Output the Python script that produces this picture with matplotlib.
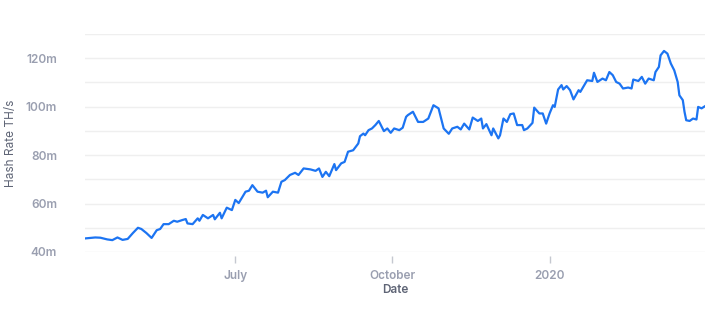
import matplotlib
matplotlib.use("Agg")
import matplotlib.pyplot as plt
import pandas as pd

dates = [
    "2019-04-04", "2019-04-10", "2019-04-13", "2019-04-17", "2019-04-20", "2019-04-23", "2019-04-26", "2019-04-29",
    "2019-05-02", "2019-05-05", "2019-05-07", "2019-05-10", "2019-05-13", "2019-05-16", "2019-05-18", "2019-05-20",
    "2019-05-23", "2019-05-26", "2019-05-28", "2019-05-31", "2019-06-02", "2019-06-03", "2019-06-06", "2019-06-09",
    "2019-06-10", "2019-06-12", "2019-06-15", "2019-06-18", "2019-06-19", "2019-06-22", "2019-06-23", "2019-06-26",
    "2019-06-29", "2019-07-01", "2019-07-03", "2019-07-07", "2019-07-09", "2019-07-11", "2019-07-14", "2019-07-17",
    "2019-07-19", "2019-07-20", "2019-07-23", "2019-07-26", "2019-07-28", "2019-07-30", "2019-08-02", "2019-08-05",
    "2019-08-07", "2019-08-10", "2019-08-14", "2019-08-17", "2019-08-19", "2019-08-21", "2019-08-23", "2019-08-25",
    "2019-08-28", "2019-08-29", "2019-09-01", "2019-09-03", "2019-09-05", "2019-09-08", "2019-09-11", "2019-09-12",
    "2019-09-14", "2019-09-15", "2019-09-17", "2019-09-19", "2019-09-21", "2019-09-23", "2019-09-26", "2019-09-28",
    "2019-09-30", "2019-10-02", "2019-10-05", "2019-10-07", "2019-10-09", "2019-10-10", "2019-10-13", "2019-10-15",
    "2019-10-16", "2019-10-19", "2019-10-22", "2019-10-25", "2019-10-28", "2019-10-29", "2019-10-31", "2019-11-03",
    "2019-11-05", "2019-11-08", "2019-11-10", "2019-11-12", "2019-11-15", "2019-11-17", "2019-11-20", "2019-11-22",
    "2019-11-23", "2019-11-25", "2019-11-28", "2019-11-29", "2019-12-02", "2019-12-03", "2019-12-05", "2019-12-07",
    "2019-12-09", "2019-12-11", "2019-12-13", "2019-12-16", "2019-12-17", "2019-12-19", "2019-12-22", "2019-12-23",
    "2019-12-26", "2019-12-28", "2019-12-30", "2020-01-01", "2020-01-03", "2020-01-04", "2020-01-06", "2020-01-08",
    "2020-01-09", "2020-01-11", "2020-01-13", "2020-01-15", "2020-01-18", "2020-01-19", "2020-01-21", "2020-01-23",
    "2020-01-26", "2020-01-27", "2020-01-29", "2020-02-01", "2020-02-03", "2020-02-05", "2020-02-07", "2020-02-09",
    "2020-02-11", "2020-02-13", "2020-02-16", "2020-02-18", "2020-02-19", "2020-02-22", "2020-02-24", "2020-02-26",
    "2020-02-28", "2020-03-02", "2020-03-03", "2020-03-05", "2020-03-06", "2020-03-08", "2020-03-10", "2020-03-12",
    "2020-03-14", "2020-03-16", "2020-03-17", "2020-03-19", "2020-03-20", "2020-03-21", "2020-03-23", "2020-03-25",
    "2020-03-27", "2020-03-28", "2020-03-30", "2020-04-01",
]

hash_rate_m = [
    45.6, 46.0, 45.9, 45.2, 44.9, 46.0, 45.0, 45.4,
    47.8, 50.0, 49.5, 47.8, 45.8, 49.0, 49.5, 51.5,
    51.5, 52.9, 52.5, 53.2, 53.6, 51.8, 51.5, 53.9,
    52.9, 55.3, 53.9, 55.3, 53.5, 56.2, 53.9, 58.3,
    57.3, 61.5, 60.2, 64.9, 65.3, 67.6, 64.9, 64.5,
    65.3, 62.6, 64.9, 64.5, 69.0, 69.7, 71.8, 72.7,
    71.8, 74.5, 74.1, 73.5, 74.5, 71.0, 73.1, 71.3,
    76.3, 73.8, 76.6, 77.2, 81.4, 82.0, 84.8, 87.8,
    88.9, 88.2, 90.3, 91.0, 92.4, 94.1, 89.9, 91.0,
    89.2, 91.0, 90.3, 91.3, 95.8, 96.5, 97.9, 95.1,
    93.7, 93.7, 95.1, 100.6, 99.3, 96.5, 91.0, 88.8,
    91.0, 91.7, 90.6, 93.0, 90.6, 95.5, 94.1, 95.1,
    91.0, 92.8, 88.2, 91.0, 86.9, 88.2, 95.1, 93.7,
    96.9, 97.2, 92.4, 92.4, 90.3, 91.0, 93.3, 99.6,
    97.2, 97.2, 93.0, 97.2, 100.6, 99.9, 107.1, 108.9,
    107.1, 108.5, 106.8, 103.0, 106.8, 106.1, 108.5, 110.9,
    110.6, 114.0, 110.2, 111.6, 110.9, 114.3, 113.0, 110.2,
    109.5, 107.5, 107.9, 107.5, 111.2, 110.6, 112.3, 109.5,
    111.6, 110.9, 114.3, 116.4, 121.2, 123.0, 121.9, 117.8,
    115.0, 110.2, 104.7, 102.7, 97.9, 94.4, 94.1, 95.1,
    94.7, 99.9, 99.3, 100.2,
]

x_tick_dates = ["2019-07-01", "2019-10-01", "2020-01-01"]
x_tick_labels = ["July", "October", "2020"]
y_tick_values = [40, 60, 80, 100, 120]
y_tick_labels = ["40m", "60m", "80m", "100m", "120m"]
y_grid_values = [40, 50, 60, 70, 80, 90, 100, 110, 120, 130]

plt.rcParams["font.family"] = ["Inter", "DejaVu Sans"]

x = pd.to_datetime(dates)
fig = plt.figure(figsize=(7.1, 3.18), dpi=100)
ax = fig.add_axes([85 / 710, 1 - 252 / 318, 620 / 710, 218 / 318])

for g in y_grid_values:
    ax.axhline(g, color="#efefef", lw=1.0, zorder=0)

ax.plot(x, hash_rate_m, color="#1c74f2", lw=1.6, zorder=3, solid_joinstyle="round")

ax.set_xlim(x[0], x[-1])
ax.set_ylim(40, 130)

for s in ax.spines.values():
    s.set_visible(False)
ax.spines["bottom"].set_position(("outward", 3))

ax.set_yticks(y_tick_values)
ax.set_yticklabels(y_tick_labels)
ax.tick_params(axis="y", length=0, pad=20, labelsize=8.5, labelcolor="#9a9fb0")
for t in ax.get_yticklabels():
    t.set_fontweight("semibold")

ax.set_xticks(pd.to_datetime(x_tick_dates))
ax.set_xticklabels(x_tick_labels)
ax.tick_params(axis="x", length=5, width=1, color="#c5c8d0", pad=5, labelsize=8.5, labelcolor="#9a9fb0")
for t in ax.get_xticklabels():
    t.set_fontweight("semibold")

ax.set_xlabel("Date", fontsize=8.5, color="#5f6576", fontweight="semibold")
ax.xaxis.set_label_coords(0.5, -0.174)
ax.xaxis.label.set_va("center")
ax.set_ylabel("Hash Rate TH/s", fontsize=8.5, color="#5f6576")
ax.yaxis.set_label_coords(-0.119, 0.5)
ax.yaxis.label.set_va("center")

fig.savefig("out.png", dpi=100)
